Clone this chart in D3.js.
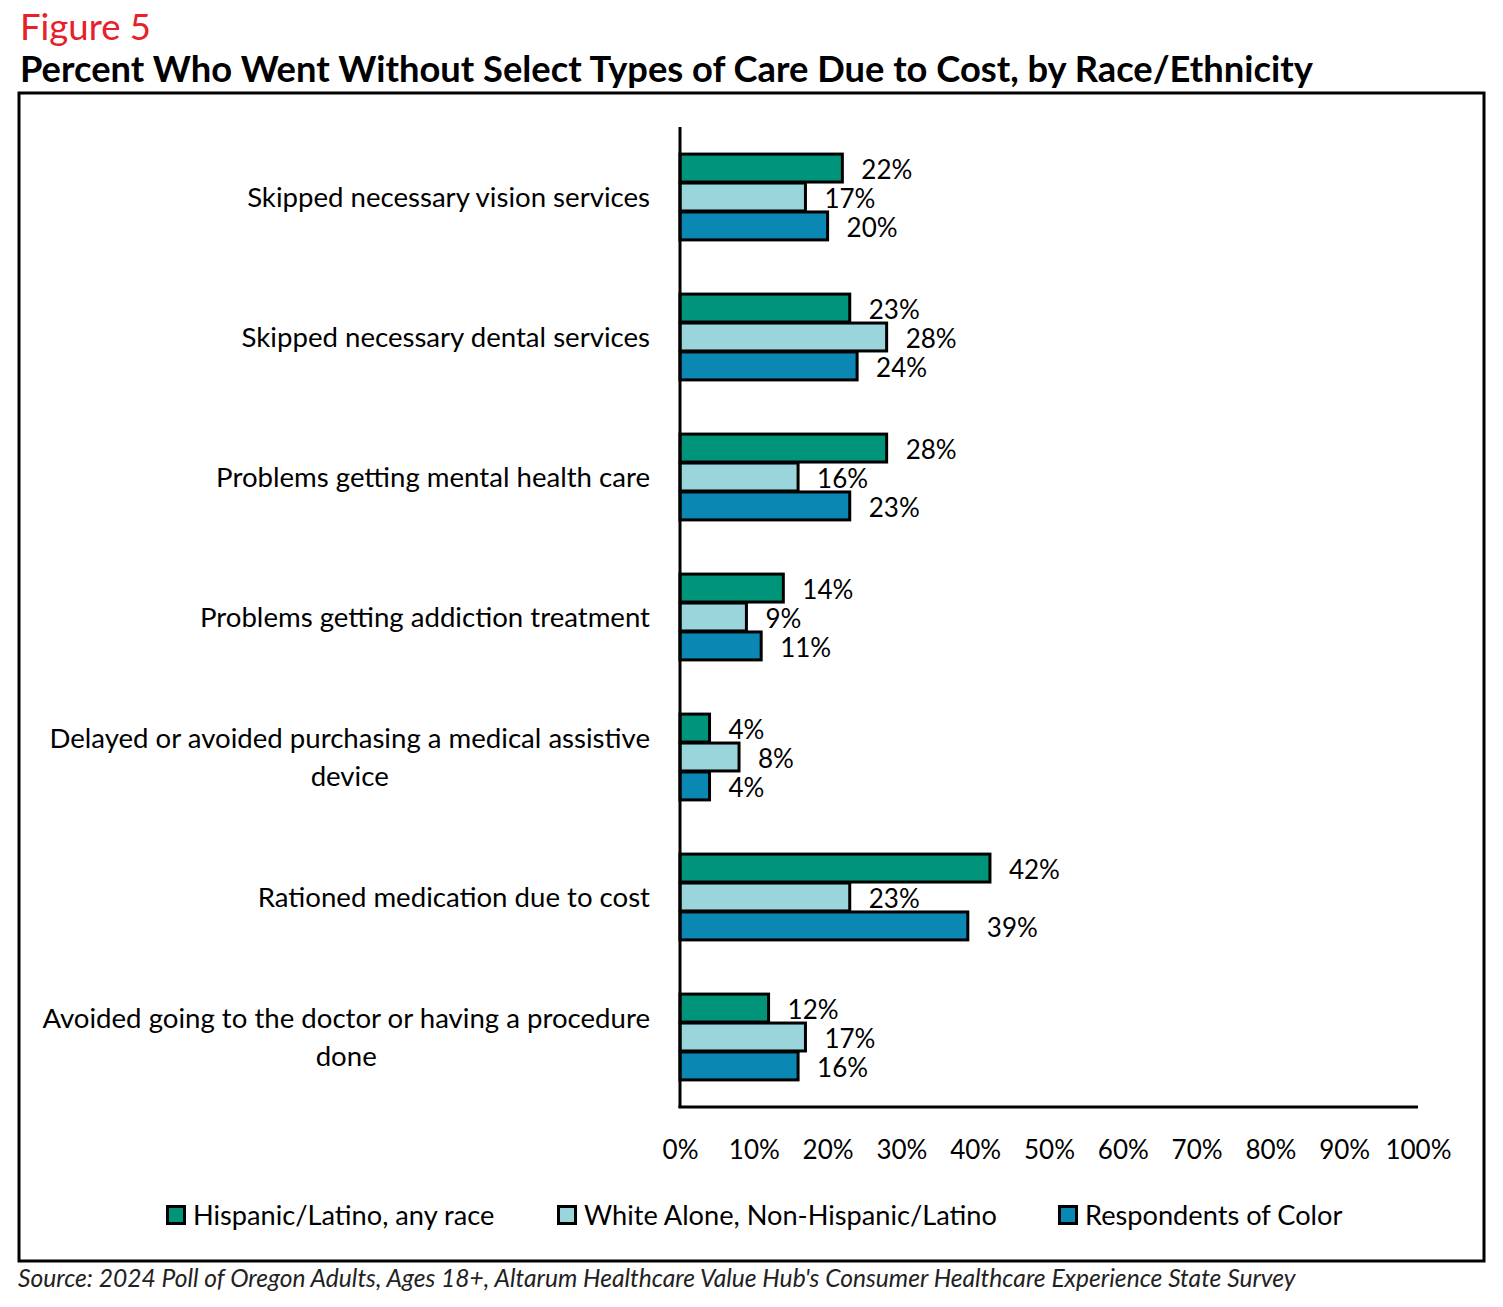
<!DOCTYPE html>
<html><head><meta charset="utf-8">
<script src="https://cdn.jsdelivr.net/npm/d3@7"></script>
<style>
body{margin:0;background:#fff;}
svg{display:block;}
text{font-family:Lato, "Open Sans", sans-serif;}
</style></head>
<body>
<svg id="chart" width="1503" height="1307"></svg>
<script>
const categories = [
  ["Skipped necessary vision services"],
  ["Skipped necessary dental services"],
  ["Problems getting mental health care"],
  ["Problems getting addiction treatment"],
  ["Delayed or avoided purchasing a medical assistive", "device"],
  ["Rationed medication due to cost"],
  ["Avoided going to the doctor or having a procedure", "done"]
];
const seriesNames = ["Hispanic/Latino, any race", "White Alone, Non-Hispanic/Latino", "Respondents of Color"];
const hispanic = [22, 23, 28, 14, 4, 42, 12];
const white = [17, 28, 16, 9, 8, 23, 17];
const color = [20, 24, 23, 11, 4, 39, 16];
const seriesColors = ["#00957a", "#9ad5dc", "#0a87b2"];
const xTicks = [0,10,20,30,40,50,60,70,80,90,100];

const series = [hispanic, white, color];
const svg = d3.select("#chart");

// Titles
svg.append("text").attr("x",20).attr("y",40).attr("font-size",36.5).attr("fill","#e8202a").text("Figure 5");
svg.append("text").attr("x",20).attr("y",82).attr("font-size",36.3).attr("font-weight","bold").attr("fill","#000")
  .text("Percent Who Went Without Select Types of Care Due to Cost, by Race/Ethnicity");

// Frame
svg.append("rect").attr("x",19).attr("y",93).attr("width",1465).attr("height",1168)
  .attr("fill","none").attr("stroke","#000").attr("stroke-width",3);

const x = d3.scaleLinear().domain([0,100]).range([680,1418]);
const y = d3.scaleBand().domain(d3.range(categories.length)).range([127,1107]).paddingInner(0.38).paddingOuter(0.19);
const ySub = d3.scaleBand().domain(d3.range(3)).range([0, y.bandwidth()]);

// bars
const groups = svg.append("g").selectAll("g").data(categories).join("g")
  .attr("transform",(d,i)=>`translate(0,${y(i)})`);
groups.each(function(cat,i){
  const g = d3.select(this);
  series.forEach((s,k)=>{
    g.append("rect").attr("x",x(0)).attr("y",ySub(k)+0.5).attr("width",x(s[i])-x(0)).attr("height",ySub.bandwidth()-1)
      .attr("fill",seriesColors[k]).attr("stroke","#000").attr("stroke-width",3);
    g.append("text").attr("x",x(s[i])+19).attr("y",ySub(k)+ySub.bandwidth()/2+2).attr("dy","0.35em")
      .attr("font-size",26).attr("fill","#000").text(s[i]+"%");
  });
});

// category labels
categories.forEach((lines,i)=>{
  const cy = y(i)+y.bandwidth()/2;
  const lh = 38;
  const fs = 27.6;
  const t = svg.append("text").attr("font-size",fs).attr("fill","#000");
  const top = cy - (lines.length-1)*lh/2;
  const first = t.append("tspan").attr("x",650).attr("y",top).attr("dy","0.35em").attr("text-anchor","end").text(lines[0]);
  const w = first.node().getComputedTextLength();
  const center = 650 - w/2;
  for(let j=1;j<lines.length;j++){
    svg.append("text").attr("font-size",fs).attr("fill","#000").attr("x",center).attr("y",top+j*lh).attr("dy","0.35em")
      .attr("text-anchor","middle").text(lines[j]);
  }
});

// axes lines
svg.append("line").attr("x1",x(0)).attr("x2",x(0)).attr("y1",127).attr("y2",1108).attr("stroke","#000").attr("stroke-width",3);
svg.append("line").attr("x1",x(0)-1.5).attr("x2",x(100)).attr("y1",1107).attr("y2",1107).attr("stroke","#000").attr("stroke-width",3);

// tick labels
const xAxis = d3.axisBottom(x).tickValues(xTicks).tickSize(0).tickPadding(0).tickFormat(d=>d+"%");
const ax = svg.append("g").attr("transform","translate(0,1140)").call(xAxis);
ax.select(".domain").remove();
ax.selectAll("text").attr("font-size",26).attr("fill","#000").attr("font-family","Lato, sans-serif").attr("dy","0.35em").attr("y",10);

// legend
const legX = [166, 557, 1058];
seriesNames.forEach((n,k)=>{
  svg.append("rect").attr("x",legX[k]+1.5).attr("y",1206.5).attr("width",17).attr("height",17)
    .attr("fill",seriesColors[k]).attr("stroke","#000").attr("stroke-width",3);
  svg.append("text").attr("x",legX[k]+27).attr("y",1215).attr("dy","0.35em").attr("font-size",27.2).attr("fill","#000").text(n);
});

// source
svg.append("text").attr("x",18).attr("y",1278).attr("dy","0.35em").attr("font-size",24.6).attr("font-style","italic").attr("fill","#222")
  .text("Source: 2024 Poll of Oregon Adults, Ages 18+, Altarum Healthcare Value Hub's Consumer Healthcare Experience State Survey");
</script>
</body></html>
